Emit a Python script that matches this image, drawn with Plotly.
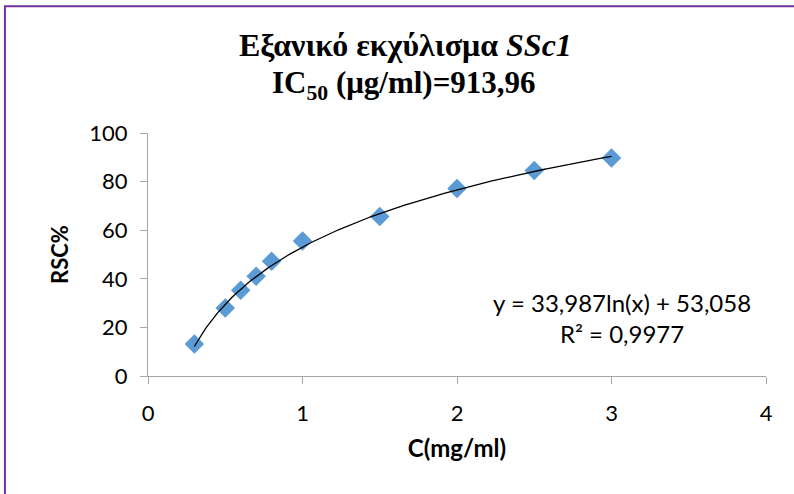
import numpy as np
import plotly.graph_objects as go

# Concentration (mg/ml) and radical scavenging capacity (%)
conc = [0.3, 0.5, 0.6, 0.7, 0.8, 1.0, 1.5, 2.0, 2.5, 3.0]
rsc = [13.2, 28.0, 35.3, 41.0, 47.2, 55.6, 65.6, 77.2, 84.6, 89.7]

# Logarithmic trendline coefficients
slope = 33.987
intercept = 53.058
r_squared = "0,9977"

x_ticks = [0, 1, 2, 3, 4]
y_ticks = [0, 20, 40, 60, 80, 100]

fit_x = np.linspace(min(conc), max(conc), 200)
fit_y = slope * np.log(fit_x) + intercept

SANS = "Lato, Open Sans, sans-serif"
SERIF = "Liberation Serif, Times New Roman, serif"

fig = go.Figure()
fig.add_trace(go.Scatter(
    x=conc, y=rsc, mode="markers",
    marker=dict(symbol="diamond", size=15, color="#5B9BD5"),
    showlegend=False, hoverinfo="x+y",
))
fig.add_trace(go.Scatter(
    x=fit_x, y=fit_y, mode="lines",
    line=dict(color="black", width=1.3),
    showlegend=False, hoverinfo="skip",
))

axis_common = dict(
    showgrid=False, zeroline=False, showline=True,
    linecolor="#A6A6A6", linewidth=1.2,
    ticks="outside", ticklen=7, tickcolor="#A6A6A6", tickwidth=1.2,
    tickfont=dict(family=SANS, size=22, color="black"),
)

fig.update_xaxes(
    range=[0, 4], tickvals=x_ticks, ticklabelstandoff=10,
    title=dict(text="<b>C(mg/ml)</b>", standoff=15,
               font=dict(family=SANS, size=24, color="black")),
    **axis_common,
)
fig.update_yaxes(
    range=[0, 100], tickvals=y_ticks, ticklabelstandoff=8,
    title=dict(text="<b>RSC%</b>", standoff=14,
               font=dict(family=SANS, size=22, color="black")),
    **axis_common,
)

# Two-line chart title
fig.add_annotation(
    x=0.417, y=1.362, xref="paper", yref="paper", xanchor="center", yanchor="middle",
    showarrow=False,
    text="<b>Εξανικό εκχύλισμα <i>SSc1</i></b>",
    font=dict(family=SERIF, size=32, color="black"),
)
fig.add_annotation(
    x=0.415, y=1.198, xref="paper", yref="paper", xanchor="center", yanchor="middle",
    showarrow=False,
    text="<b>IC<sub>50</sub> (μg/ml)=913,96</b>",
    font=dict(family=SERIF, size=31, color="black"),
)

# Trendline equation label
fig.add_annotation(
    x=3.068, y=23.7, xref="x", yref="y", xanchor="center", yanchor="middle",
    showarrow=False, align="center",
    text=f"y = {str(slope).replace('.', ',')}ln(x) + {str(intercept).replace('.', ',')}"
         f"<br>R² = {r_squared}",
    font=dict(family=SANS, size=24, color="black"),
)

# Purple outer frame of the chart
fig.add_shape(
    type="rect", xref="paper", yref="paper",
    x0=-0.2315, x1=1.2, y0=-0.6, y1=1.522,
    line=dict(color="#7030A0", width=2), layer="above",
)

fig.update_layout(
    width=794, height=494,
    margin=dict(l=148, r=28, t=133, b=118),
    paper_bgcolor="white", plot_bgcolor="white",
)

fig.write_html("out.html")
